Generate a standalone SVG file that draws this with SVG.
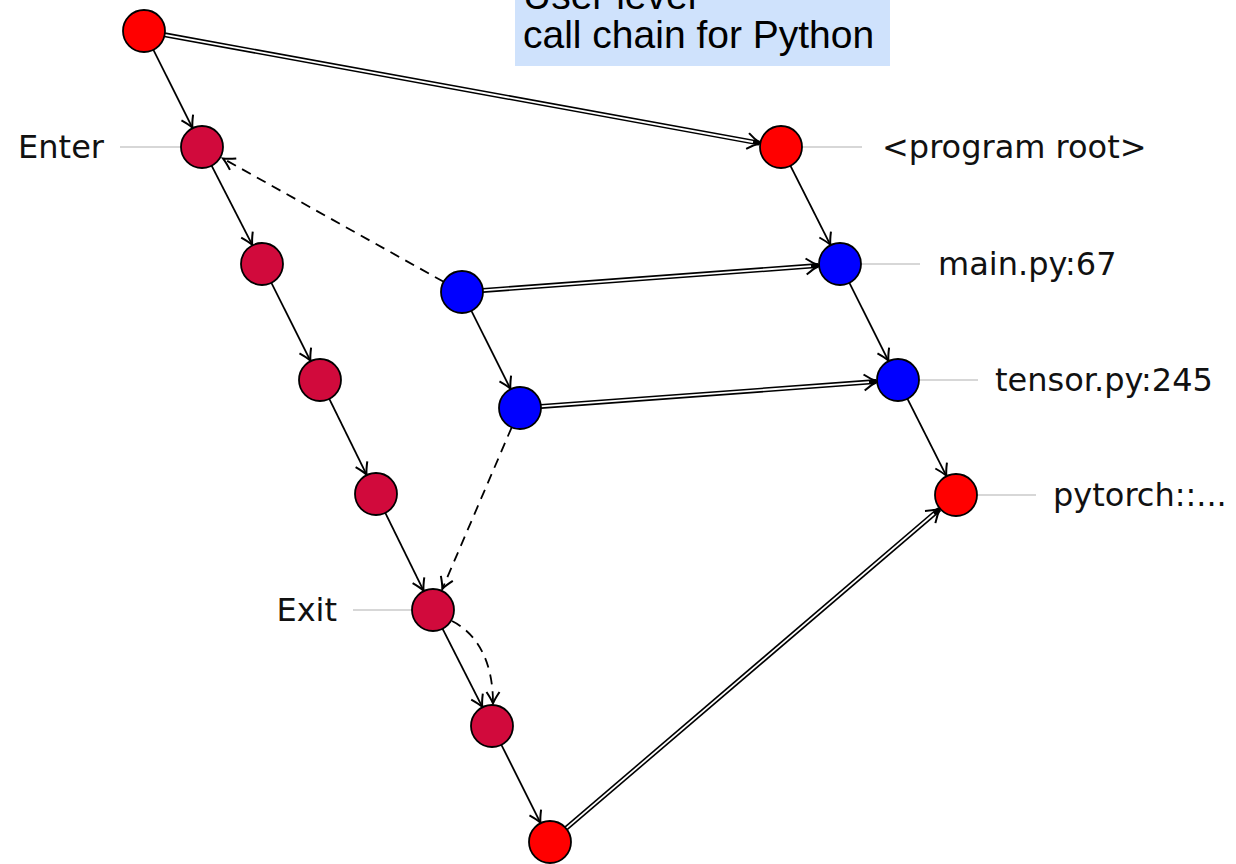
<svg xmlns="http://www.w3.org/2000/svg" width="1236" height="864" viewBox="0 0 1236 864">
<style>
.nr{fill:#ff0000;stroke:#000;stroke-width:1.8}
.nc{fill:#d10a3c;stroke:#000;stroke-width:1.8}
.nb{fill:#0000ff;stroke:#000;stroke-width:1.8}
.lbl{font-family:"DejaVu Sans",sans-serif;font-size:32px;fill:#111}
.tick{stroke:#b0b0b0;stroke-width:1.2}
.a{stroke:#000;stroke-width:1.8;fill:none;marker-end:url(#ah)}
.d{stroke:#000;stroke-width:1.8;fill:none;stroke-dasharray:10 7;marker-end:url(#ah)}
.dbo{stroke:#000;stroke-width:5;fill:none;marker-end:url(#ah2)}
.dbi{stroke:#fff;stroke-width:1.8;fill:none}
</style>
<defs>
<marker id="ah" viewBox="-14 -14 28 28" markerWidth="28" markerHeight="28" refX="0" refY="0" orient="auto" markerUnits="userSpaceOnUse">
<path d="M-11,-6.5 Q-4,-1.8 0.5,0 Q-4,1.8 -11,6.5" fill="none" stroke="#000" stroke-width="2"/>
</marker>
<marker id="ah2" viewBox="-16 -16 32 32" markerWidth="32" markerHeight="32" refX="0" refY="0" orient="auto" markerUnits="userSpaceOnUse">
<path d="M-12,-8 Q-5,-2.5 1.5,0 Q-5,2.5 -12,8" fill="none" stroke="#000" stroke-width="2"/>
</marker>
</defs>
<rect x="515" y="0" width="375" height="66" fill="#cfe2fc"/>
<text x="523" y="9" font-family="Liberation Sans, Arial, sans-serif" font-size="39" fill="#000">User level</text>
<text x="523" y="48" font-family="Liberation Sans, Arial, sans-serif" font-size="39" fill="#000">call chain for Python</text>
<g id="connectors">
<path class="a" d="M153.4,49.8 L192.2,127.3"/>
<path class="a" d="M211.6,165.7 L252.0,244.4"/>
<path class="a" d="M271.4,282.8 L310.2,360.3"/>
<path class="a" d="M329.3,398.9 L366.3,474.2"/>
<path class="a" d="M385.3,512.9 L423.3,590.2"/>
<path class="a" d="M442.5,628.7 L482.0,706.4"/>
<path class="a" d="M501.4,744.8 L540.2,822.3"/>
<path class="a" d="M790.5,165.8 L830.1,244.4"/>
<path class="a" d="M849.4,282.8 L888.2,360.3"/>
<path class="a" d="M907.5,398.8 L946.1,475.4"/>
<path class="a" d="M471.4,310.8 L510.2,388.3"/>
<path class="dbo" d="M164.7,34.8 L759.4,143.1"/>
<path class="dbi" d="M164.7,34.8 L753,142"/>
<path class="dbo" d="M482.9,290.4 L818.1,265.6"/>
<path class="dbi" d="M482.9,290.4 L811,266.1"/>
<path class="dbo" d="M540.9,406.4 L876.1,381.6"/>
<path class="dbi" d="M540.9,406.4 L869,382.1"/>
<path class="dbo" d="M566,828.4 L939.3,509.3"/>
<path class="dbi" d="M566,828.4 L934,513.8"/>
<path class="d" d="M443.7,281.8 L223.5,158.8"/>
<path class="d" d="M511.7,427.3 L442.5,588.5"/>
<path class="d" d="M452,621 C476,633 493,660 493,703"/>
<line class="tick" x1="120" y1="147" x2="181" y2="147"/>
<line class="tick" x1="353" y1="610" x2="412" y2="610"/>
<line class="tick" x1="802" y1="147" x2="862" y2="147"/>
<line class="tick" x1="861" y1="264" x2="920" y2="264"/>
<line class="tick" x1="919" y1="380" x2="978" y2="380"/>
<line class="tick" x1="977" y1="495" x2="1036" y2="495"/>
</g>
<g id="n-root"><circle class="nr" cx="144" cy="31" r="21"/></g>
<g id="n-enter"><circle class="nc" cx="202" cy="147" r="21"/><text class="lbl" x="104" y="158" text-anchor="end">Enter</text></g>
<g id="n-c2"><circle class="nc" cx="262" cy="264" r="21"/></g>
<g id="n-c3"><circle class="nc" cx="320" cy="380" r="21"/></g>
<g id="n-c4"><circle class="nc" cx="376" cy="494" r="21"/></g>
<g id="n-exit"><circle class="nc" cx="433" cy="610" r="21"/><text class="lbl" x="337" y="621" text-anchor="end">Exit</text></g>
<g id="n-c6"><circle class="nc" cx="492" cy="726" r="21"/></g>
<g id="n-bottom"><circle class="nr" cx="550" cy="842" r="21"/></g>
<g id="n-blue1"><circle class="nb" cx="462" cy="292" r="21"/></g>
<g id="n-blue2"><circle class="nb" cx="520" cy="408" r="21"/></g>
<g id="n-proot"><circle class="nr" cx="781" cy="147" r="21"/><text class="lbl" x="882" y="158">&lt;program root&gt;</text></g>
<g id="n-main"><circle class="nb" cx="840" cy="264" r="21"/><text class="lbl" x="938" y="275">main.py:67</text></g>
<g id="n-tensor"><circle class="nb" cx="898" cy="380" r="21"/><text class="lbl" x="995" y="391">tensor.py:245</text></g>
<g id="n-pytorch"><circle class="nr" cx="956" cy="495" r="21"/><text class="lbl" x="1053" y="506">pytorch::...</text></g>
</svg>
